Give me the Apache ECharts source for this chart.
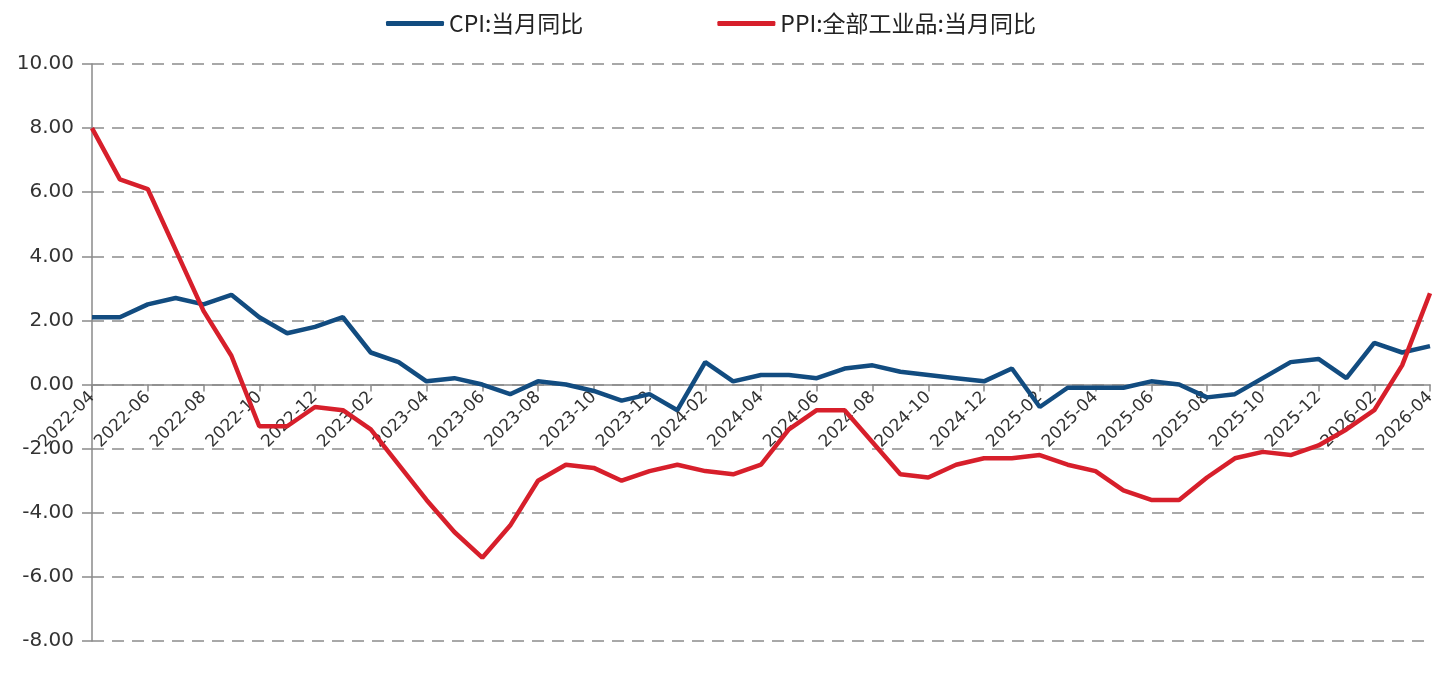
<!DOCTYPE html>
<html lang="zh">
  <head>
    <meta charset="UTF-8" />
    <title>CPI / PPI 当月同比</title>
    <script src="https://cdn.jsdelivr.net/npm/echarts@6/dist/echarts.min.js"></script>
    <style>
      html, body { margin: 0; padding: 0; background: #fff; }
      #chart { width: 1436px; height: 681px; }
    </style>
  </head>
  <body>
    <div id="chart"></div>
    <script>
      // months 2022-04 .. 2026-04
      const months = [
        "2022-04", "2022-05", "2022-06", "2022-07", "2022-08", "2022-09", "2022-10", "2022-11", "2022-12",
        "2023-01", "2023-02", "2023-03", "2023-04", "2023-05", "2023-06", "2023-07", "2023-08", "2023-09",
        "2023-10", "2023-11", "2023-12", "2024-01", "2024-02", "2024-03", "2024-04", "2024-05", "2024-06",
        "2024-07", "2024-08", "2024-09", "2024-10", "2024-11", "2024-12", "2025-01", "2025-02", "2025-03",
        "2025-04", "2025-05", "2025-06", "2025-07", "2025-08", "2025-09", "2025-10", "2025-11", "2025-12",
        "2026-01", "2026-02", "2026-03", "2026-04"
      ];

      const cpi = [
        2.1, 2.1, 2.5, 2.7, 2.5, 2.8, 2.1, 1.6, 1.8,
        2.1, 1.0, 0.7, 0.1, 0.2, 0.0, -0.3, 0.1, 0.0,
        -0.2, -0.5, -0.3, -0.8, 0.7, 0.1, 0.3, 0.3, 0.2,
        0.5, 0.6, 0.4, 0.3, 0.2, 0.1, 0.5, -0.7, -0.1,
        -0.1, -0.1, 0.1, 0.0, -0.4, -0.3, 0.2, 0.7, 0.8,
        0.2, 1.3, 1.0, 1.2
      ];

      const ppi = [
        8.0, 6.4, 6.1, 4.2, 2.3, 0.9, -1.3, -1.3, -0.7,
        -0.8, -1.4, -2.5, -3.6, -4.6, -5.4, -4.4, -3.0, -2.5,
        -2.6, -3.0, -2.7, -2.5, -2.7, -2.8, -2.5, -1.4, -0.8,
        -0.8, -1.8, -2.8, -2.9, -2.5, -2.3, -2.3, -2.2, -2.5,
        -2.7, -3.3, -3.6, -3.6, -2.9, -2.3, -2.1, -2.2, -1.9,
        -1.4, -0.8, 0.6, 2.85
      ];

      const seriesNames = ["CPI:当月同比", "PPI:全部工业品:当月同比"];
      const seriesColors = ["#124c80", "#d71f2b"];

      const chartHeight = 681;
      const gridBottom = 40;

      const myChart = echarts.init(document.getElementById("chart"));

      const option = {
        animation: false,
        color: seriesColors,
        legend: {
          top: 7,
          left: 381,
          itemGap: 134,
          itemWidth: 58,
          itemHeight: 5,
          icon: "roundRect",
          textStyle: {
            fontFamily: "Noto Sans CJK SC",
            fontSize: 23,
            color: "#222"
          },
          data: seriesNames
        },
        grid: {
          left: 92,
          right: 6,
          top: 64,
          bottom: gridBottom,
          outerBoundsMode: "none",
          containLabel: false
        },
        xAxis: {
          type: "category",
          data: months,
          boundaryGap: false,
          offset: 0,
          axisLine: {
            onZero: false,
            lineStyle: { color: "#8a8a8a", width: 1.5 }
          },
          axisTick: {
            interval: 1,
            length: 7,
            lineStyle: { color: "#8a8a8a", width: 1.5 }
          },
          axisLabel: {
            interval: 1,
            rotate: 45,
            margin: 10,
            fontFamily: "DejaVu Sans",
            fontSize: 17,
            color: "#333"
          },
          splitLine: { show: false }
        },
        yAxis: {
          type: "value",
          min: -8,
          max: 10,
          interval: 2,
          axisLine: {
            show: true,
            lineStyle: { color: "#8a8a8a", width: 1.5 }
          },
          axisTick: {
            show: true,
            length: 10,
            lineStyle: { color: "#8a8a8a", width: 1.5 }
          },
          axisLabel: {
            margin: 18,
            fontFamily: "DejaVu Sans",
            fontSize: 20,
            color: "#333",
            formatter: (v) => v.toFixed(2)
          },
          splitLine: {
            lineStyle: { color: "#8c8c8c", width: 1.5, type: [12, 8] }
          }
        },
        series: [
          {
            name: seriesNames[0],
            type: "line",
            data: cpi,
            symbol: "none",
            lineStyle: { width: 4.5 },
            z: 3
          },
          {
            name: seriesNames[1],
            type: "line",
            data: ppi,
            symbol: "none",
            lineStyle: { width: 4.5 },
            z: 4
          }
        ]
      };

      myChart.setOption(option);

      // move the category axis (line, ticks and labels) up to the y = 0 level
      const zeroY = myChart.convertToPixel({ yAxisIndex: 0 }, 0);
      const bottomY = chartHeight - gridBottom;
      myChart.setOption({ xAxis: { offset: zeroY - bottomY } });
    </script>
  </body>
</html>
